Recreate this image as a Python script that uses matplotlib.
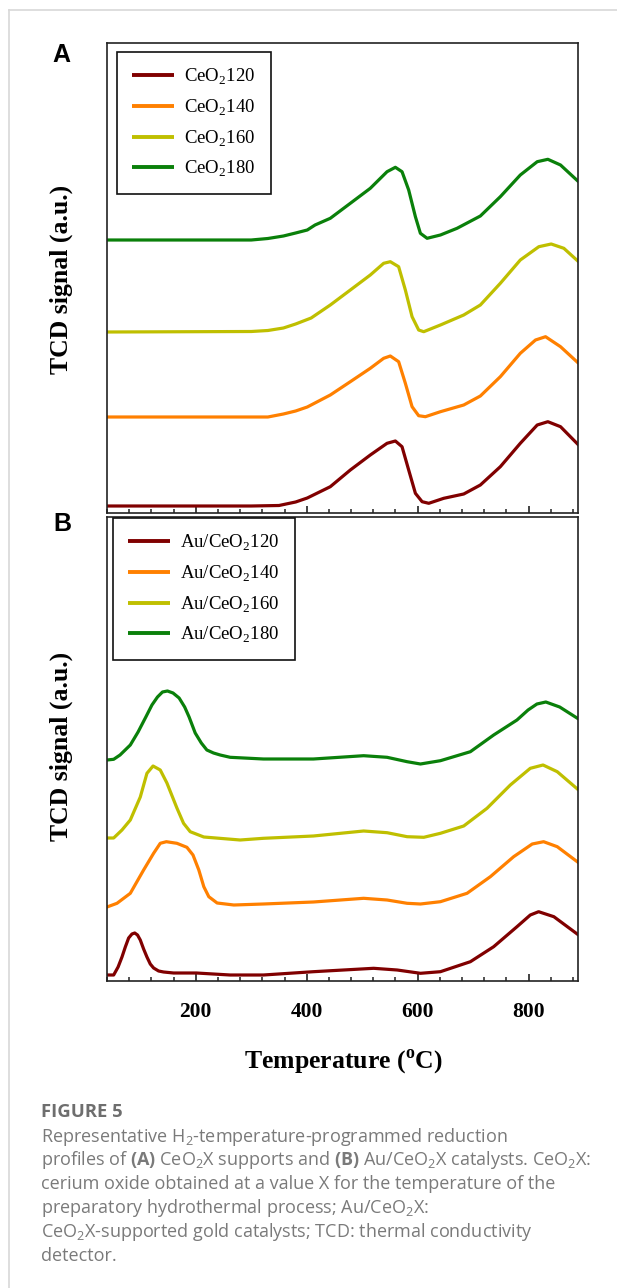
import matplotlib
matplotlib.use("Agg")
import matplotlib.pyplot as plt
from matplotlib.lines import Line2D
from matplotlib.ticker import MultipleLocator, FixedLocator

plt.rcParams['mathtext.fontset'] = 'custom'
plt.rcParams['mathtext.rm'] = 'Open Sans'
plt.rcParams['mathtext.bf'] = 'Open Sans:bold'
plt.rcParams['mathtext.sf'] = 'Liberation Serif:bold'
plt.rcParams['mathtext.tt'] = 'Liberation Serif'

# ---------------- data (panel A: CeO2X supports) ----------------
a120_T = [40, 300, 350, 380, 401, 442.5, 478.6, 514.6, 544.8, 559.8, 571.8, 583.8, 595.9, 608, 620,
          647, 683, 713, 749, 785, 815.5, 834.7, 857.5, 890]
a120_v = [7, 7, 7.5, 11, 15, 26.3, 43, 58, 69.7, 72, 66.3, 43, 19.7, 11.3, 9.7,
          14.7, 19, 28, 46.3, 69.7, 88, 91.3, 86.3, 68]

a140_T = [40, 330, 358, 380, 401, 442.5, 478.6, 514.6, 538.7, 550.7, 565.7, 577.8, 589.9, 601.8, 613.9,
          641, 683, 713, 749, 785, 812.4, 830.5, 857.5, 890]
a140_v = [96, 96, 99, 102, 106, 118, 131.3, 144.7, 154.7, 157, 151.3, 129.7, 106.3, 97.3, 96.3,
          101.3, 108, 117, 136.3, 159.7, 173, 176.3, 166.3, 149.7]

a160_T = [40, 300, 330, 358, 380, 408, 442.5, 478.6, 514.6, 538.7, 550.7, 565.7, 577.8, 589.9, 601.8,
          610.9, 641, 683, 713, 749, 785, 818.4, 840.7, 863.5, 890]
a160_v = [181, 181.5, 182.5, 185, 189, 195, 208, 223, 238, 249.7, 251.3, 246.3, 223, 196.3, 183,
          181.3, 188, 198, 208, 229.7, 253, 266.3, 269, 264.7, 251.3]

a180_T = [40, 300, 330, 358, 380, 401, 415, 442.5, 478.6, 514.6, 544.8, 559.8, 571.8, 583.8, 595.9,
          604.9, 617, 641, 671, 713, 749, 785, 815.5, 834.7, 857.5, 890]
a180_v = [273, 273, 274.5, 277, 280, 283, 288, 294.7, 309.7, 324.7, 341.3, 345.7, 341.3, 323, 296.3,
          279.7, 274.7, 278, 284.7, 297, 316.3, 338, 351.3, 353.7, 348, 331.3]

# ---------------- data (panel B: Au/CeO2X catalysts) ----------------
b120_T = [40, 52, 60, 67, 73, 79, 85, 90, 95, 100, 106, 112, 118, 124, 133, 142, 160, 201, 262, 322,
          412, 520.6, 563, 605, 641, 695, 737, 779, 803, 818, 845.5, 890]
b120_v = [6, 6, 14, 24, 34, 43, 47, 48, 46, 41, 32, 24, 17, 13, 10, 9, 8, 8, 6, 6,
          9.3, 12.7, 11, 7.7, 9.3, 19.3, 34.3, 54.3, 66, 69.3, 64.3, 46]

b140_T = [40, 58, 82, 106, 124, 136, 147, 166, 184, 195, 205.5, 214.5, 223.5, 238.5, 268.6, 322, 412,
          502.6, 544.8, 581, 605, 641, 689, 731, 773, 806.5, 827, 851.6, 890]
b140_v = [74, 77.7, 87.7, 111, 127.7, 137.7, 139.3, 137.7, 133.7, 126, 111, 94.3, 84.3, 78, 76, 77, 79,
          82.7, 81, 77.7, 77, 79.3, 87.7, 104.3, 124.3, 137, 139.3, 134.3, 118.3]

b160_T = [40, 52, 67, 82, 100, 112, 123, 136, 148, 166, 178, 190, 214.5, 280, 322, 412, 502.6, 544.8,
          581, 611, 641, 683, 725, 767, 803, 826, 851.6, 890]
b160_v = [143, 143, 151, 161, 184, 207.7, 215, 211, 198, 173, 157.7, 149.3, 144, 141, 142.7, 145, 150,
          148.3, 144.3, 143.7, 147.7, 155, 172.7, 196, 212.7, 216, 209.3, 191]

b180_T = [40, 52, 63.5, 82, 96, 110, 121, 131, 140, 149, 159, 170, 180, 188, 199, 210, 220, 232, 244,
          262, 322, 412, 502.6, 544.8, 581, 605, 641, 695, 737, 779, 799, 815, 831, 856, 890]
b180_v = [221, 221.7, 226, 236, 249, 264, 276, 284, 289, 290, 288, 283, 274, 264, 248, 238, 231, 228, 226,
          223.7, 222, 222, 225.3, 223.7, 219.3, 217, 220.3, 229.3, 246, 261, 271, 277, 279, 274, 262]

labels_A = ['CeO$_{\\mathtt{2}}$120', 'CeO$_{\\mathtt{2}}$140', 'CeO$_{\\mathtt{2}}$160', 'CeO$_{\\mathtt{2}}$180']
labels_B = ['Au/CeO$_{\\mathtt{2}}$120', 'Au/CeO$_{\\mathtt{2}}$140', 'Au/CeO$_{\\mathtt{2}}$160', 'Au/CeO$_{\\mathtt{2}}$180']
major_ticks = [200, 400, 600, 800]

colors = ['#800000', '#FF8000', '#BFBF00', '#0A800A']

W, H = 617, 1288
fig = plt.figure(figsize=(W / 100, H / 100), dpi=100)
fig.patch.set_facecolor('white')

# page frame lines
fig.add_artist(Line2D([8.5 / W, 1], [1 - 10 / H, 1 - 10 / H], color='#d8d8d8', lw=1.2))
fig.add_artist(Line2D([8.5 / W, 8.5 / W], [0, 1 - 10 / H], color='#d8d8d8', lw=1.2))

axA = fig.add_axes([107 / W, 1 - 513 / H, 471 / W, 470 / H])
axB = fig.add_axes([107 / W, 1 - 981 / H, 471 / W, 464 / H])

serif = 'Liberation Serif'

def style(ax, ylim, show_labels):
    ax.set_xlim(40, 889)
    ax.set_ylim(*ylim)
    ax.set_yticks([])
    ax.xaxis.set_major_locator(FixedLocator(major_ticks))
    ax.xaxis.set_minor_locator(MultipleLocator(40))
    ax.tick_params(axis='x', which='major', direction='in', length=5, width=1.2,
                   color='#222222', pad=15, labelsize=15.5)
    ax.tick_params(axis='x', which='minor', direction='in', length=2.8, width=1.1,
                   color='#222222')
    for lab in ax.get_xticklabels():
        lab.set_fontfamily(serif)
        lab.set_fontweight('bold')
    if not show_labels:
        ax.tick_params(axis='x', which='both', labelbottom=False)
    for s in ax.spines.values():
        s.set_linewidth(1.2)
        s.set_color('#222222')

seriesA = [(a120_T, a120_v), (a140_T, a140_v), (a160_T, a160_v), (a180_T, a180_v)]
seriesB = [(b120_T, b120_v), (b140_T, b140_v), (b160_T, b160_v), (b180_T, b180_v)]

for (t, v), c, lab in zip(seriesA, colors, labels_A):
    axA.plot(t, v, color=c, lw=2.3, label=lab, solid_joinstyle='round', solid_capstyle='round')
for (t, v), c, lab in zip(seriesB, colors, labels_B):
    axB.plot(t, v, color=c, lw=2.3, label=lab, solid_joinstyle='round', solid_capstyle='round')

style(axA, (0, 470), False)
style(axB, (0, 464), True)

leg_kw = dict(loc='upper left', borderaxespad=0, fancybox=False, framealpha=1,
              edgecolor='#111111', handlelength=2.25, handletextpad=0.55,
              labelspacing=0.55, borderpad=0.8,
              prop={'family': serif, 'size': 13.5})
legA = axA.legend(bbox_to_anchor=(10 / 471, 1 - 9 / 470), **leg_kw)
legB = axB.legend(bbox_to_anchor=(6 / 471, 1 - 1 / 464), **leg_kw)
for lg in (legA, legB):
    lg.get_frame().set_linewidth(1.2)
    for ln in lg.get_lines():
        ln.set_linewidth(2.8)
        ln.set_solid_capstyle('butt')

# panel letters
fig.text(61 / W, 1 - 55 / H, 'A', fontsize=18, fontweight='bold', family='Liberation Sans',
         ha='center', va='center')
fig.text(62 / W, 1 - 524 / H, 'B', fontsize=18, fontweight='bold', family='Liberation Sans',
         ha='center', va='center')

# y labels
for yc in (279, 746):
    fig.text(61 / W, 1 - yc / H, 'TCD signal (a.u.)', rotation=90, fontsize=18.5,
             fontweight='bold', family=serif, ha='center', va='center')

# x label
fig.text(343 / W, 1 - 1062 / H, 'Temperature ($^{\\mathsf{o}}$C)', fontsize=18.5,
         fontweight='bold', family=serif, ha='center', va='center')

# caption
cap_x = 41 / W
fig.text(cap_x, 1 - 1112 / H, 'FIGURE 5', fontsize=13.3, fontweight='bold',
         family='Open Sans', color='#6e6e6e', ha='left', va='center')
cap_lines = [
    'Representative H$_{\\mathrm{2}}$-temperature-programmed reduction',
    'profiles of $\\mathbf{(A)}$ CeO$_{\\mathrm{2}}$X supports and $\\mathbf{(B)}$ Au/CeO$_{\\mathrm{2}}$X catalysts. CeO$_{\\mathrm{2}}$X:',
    'cerium oxide obtained at a value X for the temperature of the',
    'preparatory hydrothermal process; Au/CeO$_{\\mathrm{2}}$X:',
    'CeO$_{\\mathrm{2}}$X-supported gold catalysts; TCD: thermal conductivity',
    'detector.',
]
cap_y = [1137, 1160, 1184, 1208, 1232, 1256]
for s, yy in zip(cap_lines, cap_y):
    fig.text(cap_x, 1 - yy / H, s, fontsize=12.95, family='Open Sans', color='#7a7a7a',
             ha='left', va='center')

fig.savefig('out.png', dpi=100, facecolor='white')
